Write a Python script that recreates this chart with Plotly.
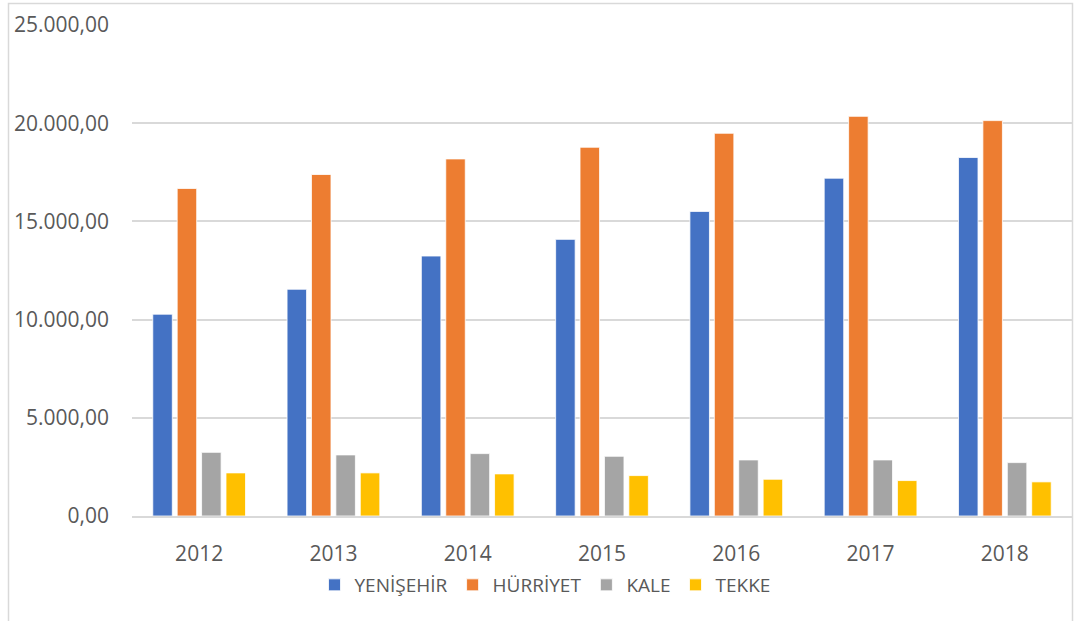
import plotly.graph_objects as go

years = ["2012", "2013", "2014", "2015", "2016", "2017", "2018"]
yenisehir = [10275, 11545, 13237, 14085, 15508, 17200, 18252]
hurriyet = [16677, 17388, 18181, 18775, 19487, 20350, 20132]
kale = [3242, 3110, 3176, 3040, 2855, 2855, 2718]
tekke = [2195, 2195, 2144, 2058, 1871, 1804, 1738]

series_names = ["YENİŞEHİR", "HÜRRİYET", "KALE", "TEKKE"]
series_values = [yenisehir, hurriyet, kale, tekke]
colors = ["#4472C4", "#ED7D31", "#A5A5A5", "#FFC000"]

W, H = 1078, 621
L, R_EDGE, T, B_EDGE = 132, 1072, 25, 516.5

fig = go.Figure()
for name, vals, c in zip(series_names, series_values, colors):
    fig.add_trace(go.Bar(
        x=years, y=vals, name=name,
        marker=dict(color=c, line=dict(color="white", width=0.8)),
    ))

pw = R_EDGE - L
ph = B_EDGE - T

fig.add_shape(
    type="rect", xref="paper", yref="paper",
    x0=(8.5 - L) / pw, x1=(1072.5 - L) / pw,
    y0=-(H - B_EDGE + 10) / ph, y1=1 + (T - 3.5) / ph,
    line=dict(color="#D9D9D9", width=1.5), fillcolor="rgba(0,0,0,0)",
    layer="above",
)

fig.update_layout(
    width=W, height=H,
    margin=dict(l=L, r=W - R_EDGE, t=T, b=H - B_EDGE, autoexpand=False),
    paper_bgcolor="white", plot_bgcolor="white",
    separators=",.",
    barmode="group", bargap=0.273, bargroupgap=0.2,
    font=dict(family="Open Sans", size=21, color="#595959"),
    showlegend=True,
    legend=dict(
        orientation="h", xref="container", yref="container",
        x=545 / W, xanchor="center", y=1 - 585 / H, yanchor="middle",
        font=dict(size=19, color="#595959"),
        itemwidth=30, tracegroupgap=0,
    ),
    xaxis=dict(
        showgrid=False, showline=True, linecolor="#D9D9D9", linewidth=1.5,
        ticks="", ticklabelstandoff=18,
        tickfont=dict(size=21, color="#595959"),
    ),
    yaxis=dict(
        range=[0, 25000], dtick=5000, tickformat=",.2f",
        showgrid=True, gridcolor="#D9D9D9", gridwidth=1.5,
        zeroline=False, showline=False, ticks="", ticklabelstandoff=22,
        tickfont=dict(size=21, color="#595959"),
    ),
)

fig.write_html(
    "out.html",
    config={"displayModeBar": False},
    post_script="document.body.style.margin='0';document.body.style.overflow='hidden';",
)
